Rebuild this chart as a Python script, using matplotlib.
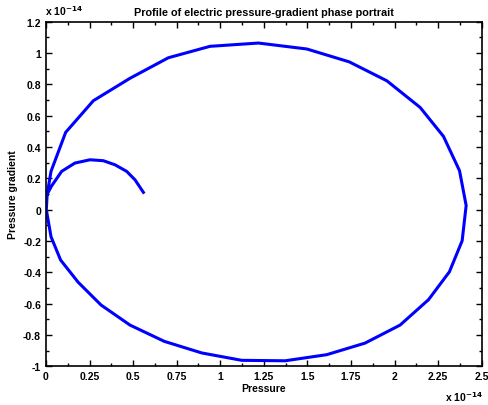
import matplotlib
matplotlib.use("Agg")
import matplotlib.pyplot as plt
from matplotlib.ticker import MultipleLocator, FuncFormatter

plt.rcParams['font.family'] = ['Liberation Sans', 'DejaVu Sans']
plt.rcParams['font.weight'] = 'bold'

# values in units of 1e-14
pressure = [0.559, 0.511, 0.463, 0.396, 0.329, 0.253, 0.166, 0.090, 0.033, 0.007,
            0.002, 0.029, 0.084, 0.185, 0.316, 0.482, 0.679, 0.894, 1.123, 1.372,
            1.611, 1.831, 2.032, 2.195, 2.315, 2.388, 2.411, 2.373, 2.281, 2.147,
            1.956, 1.740, 1.497, 1.219, 0.941, 0.702, 0.482, 0.272, 0.113, 0.029,
            0.007]
gradient = [0.111, 0.191, 0.245, 0.287, 0.313, 0.319, 0.298, 0.245, 0.153, 0.100,
            0.000, -0.172, -0.321, -0.463, -0.608, -0.736, -0.840, -0.914, -0.961, -0.964,
            -0.925, -0.851, -0.736, -0.574, -0.396, -0.198, 0.027, 0.249, 0.468, 0.653,
            0.823, 0.944, 1.026, 1.064, 1.043, 0.970, 0.839, 0.696, 0.494, 0.245,
            0.100]

fig = plt.figure(figsize=(4.89, 4.06), dpi=100)
ax = fig.add_axes([0.094, 0.095, 0.891, 0.849])
ax.plot(pressure, gradient, color='#0000ff', lw=2.2)

ax.set_xlim(0, 2.5)
ax.set_ylim(-1, 1.2)
ax.xaxis.set_major_locator(MultipleLocator(0.25))
ax.xaxis.set_minor_locator(MultipleLocator(0.125))
ax.yaxis.set_major_locator(MultipleLocator(0.2))
ax.yaxis.set_minor_locator(MultipleLocator(0.1))
fmt = FuncFormatter(lambda v, p: '%g' % round(v, 3))
ax.xaxis.set_major_formatter(fmt)
ax.yaxis.set_major_formatter(fmt)
ax.tick_params(which='both', direction='in', top=True, right=True, labelsize=7.5, width=1)
ax.tick_params(which='major', length=4)
ax.tick_params(which='minor', length=2)
for lab in ax.get_xticklabels() + ax.get_yticklabels():
    lab.set_fontweight('bold')
for s in ax.spines.values():
    s.set_linewidth(1.2)

ax.set_title('Profile of electric pressure-gradient phase portrait', fontsize=7.8,
             fontweight='bold', pad=5)
ax.set_xlabel('Pressure', fontsize=7.5, fontweight='bold', labelpad=1)
ax.set_ylabel('Pressure gradient', fontsize=7.5, fontweight='bold', labelpad=4)

fig.text(0.094 - 0.002, 0.955, r'x 10$^{\mathbf{-14}}$', fontsize=7.5, fontweight='bold',
         ha='left', va='bottom')
fig.text(0.988, 0.005, r'x 10$^{\mathbf{-14}}$', fontsize=7.5, fontweight='bold',
         ha='right', va='bottom')

fig.savefig('out.png', dpi=100)
